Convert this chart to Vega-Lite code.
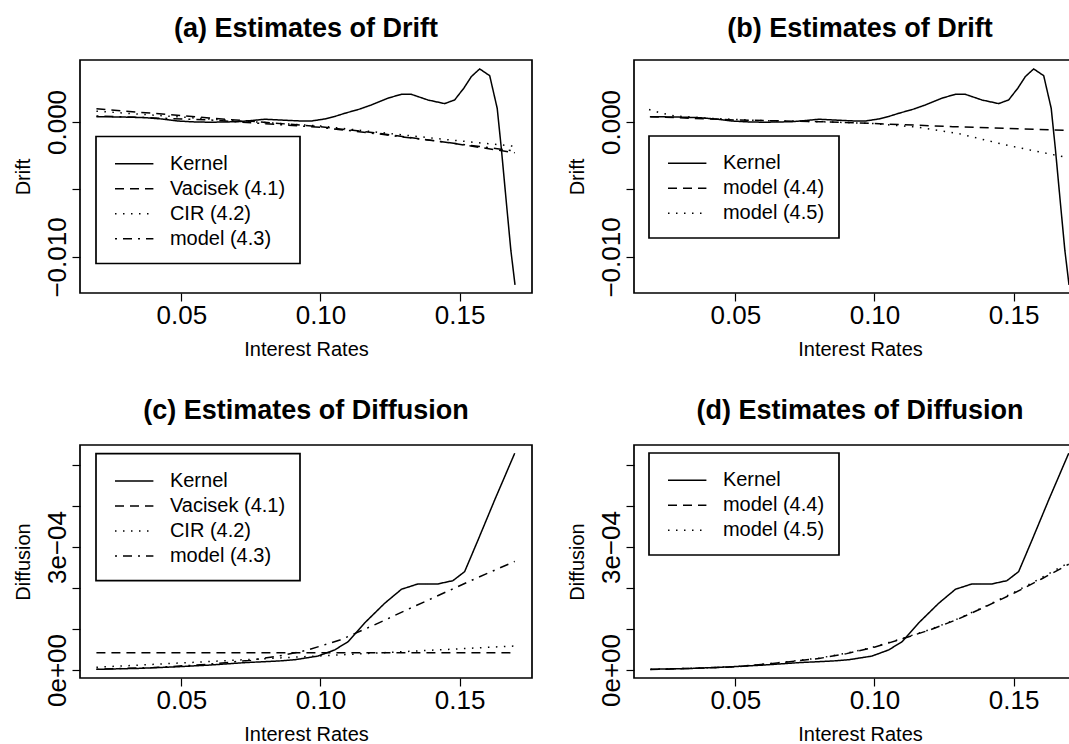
{
  "$schema": "https://vega.github.io/schema/vega-lite/v6.json",
  "autosize": {"type": "none"},
  "padding": {"left": 80, "top": 60, "right": 989, "bottom": 684},
  "background": "white",
  "config": {
    "font": "Liberation Sans",
    "view": {"stroke": "black", "strokeWidth": 1.7},
    "axis": {"domain": false, "grid": false, "ticks": true, "tickColor": "black", "tickSize": 8, "tickWidth": 1.2, "labelColor": "black", "labelFont": "Liberation Sans", "labelFontSize": 26, "titleFont": "Liberation Sans", "titleFontSize": 20, "titleFontWeight": "normal", "titleColor": "black", "labelOverlap": false, "labelBound": false, "labelFlush": false},
    "axisX": {"labelBaseline": "alphabetic", "labelPadding": 22, "titleBaseline": "alphabetic", "titleY": 62, "titleX": 226, "titleAlign": "center"},
    "axisY": {"labelAngle": -90, "labelAlign": "center", "labelBaseline": "alphabetic", "labelPadding": 7, "titleAngle": -90, "titleBaseline": "alphabetic", "titleX": -51, "titleY": 116.5, "titleAlign": "center"},
    "legend": {"orient": "none", "title": null, "strokeColor": "black", "strokeWidth": 1.7, "fillColor": "white", "padding": 14.3, "labelFont": "Liberation Sans", "labelFontSize": 20, "labelColor": "black", "symbolType": "M-1.6,0H1.6", "symbolSize": 576, "symbolStrokeWidth": 1.5, "symbolStrokeColor": "black", "symbolFillColor": "transparent", "symbolOffset": 10.9, "labelOffset": 22.7, "rowPadding": 2, "cornerRadius": 0},
    "title": {"font": "Liberation Sans", "fontSize": 27, "fontWeight": "bold", "color": "black", "anchor": "middle", "frame": "group", "baseline": "alphabetic"},
    "line": {"color": "black", "strokeWidth": 1.5}
  },
  "datasets": {
    "kernel_drift": [
      {"x": 0.0195, "y": 0.00039, "s": "Kernel"},
      {"x": 0.0280, "y": 0.00037, "s": "Kernel"},
      {"x": 0.0369, "y": 0.00032, "s": "Kernel"},
      {"x": 0.0430, "y": 0.00022, "s": "Kernel"},
      {"x": 0.0488, "y": 0.00007, "s": "Kernel"},
      {"x": 0.0550, "y": 0.00000, "s": "Kernel"},
      {"x": 0.0608, "y": -0.00002, "s": "Kernel"},
      {"x": 0.0660, "y": 0.00000, "s": "Kernel"},
      {"x": 0.0704, "y": 0.00002, "s": "Kernel"},
      {"x": 0.0760, "y": 0.00012, "s": "Kernel"},
      {"x": 0.0800, "y": 0.00020, "s": "Kernel"},
      {"x": 0.0871, "y": 0.00013, "s": "Kernel"},
      {"x": 0.0930, "y": 0.00007, "s": "Kernel"},
      {"x": 0.0967, "y": 0.00007, "s": "Kernel"},
      {"x": 0.1015, "y": 0.00022, "s": "Kernel"},
      {"x": 0.1050, "y": 0.00040, "s": "Kernel"},
      {"x": 0.1087, "y": 0.00064, "s": "Kernel"},
      {"x": 0.1140, "y": 0.00095, "s": "Kernel"},
      {"x": 0.1183, "y": 0.00126, "s": "Kernel"},
      {"x": 0.1242, "y": 0.00176, "s": "Kernel"},
      {"x": 0.1291, "y": 0.00205, "s": "Kernel"},
      {"x": 0.1326, "y": 0.00205, "s": "Kernel"},
      {"x": 0.1386, "y": 0.00163, "s": "Kernel"},
      {"x": 0.1446, "y": 0.00136, "s": "Kernel"},
      {"x": 0.1482, "y": 0.00163, "s": "Kernel"},
      {"x": 0.1515, "y": 0.00250, "s": "Kernel"},
      {"x": 0.1542, "y": 0.00336, "s": "Kernel"},
      {"x": 0.1572, "y": 0.00393, "s": "Kernel"},
      {"x": 0.1608, "y": 0.00343, "s": "Kernel"},
      {"x": 0.1635, "y": 0.00101, "s": "Kernel"},
      {"x": 0.1650, "y": -0.00200, "s": "Kernel"},
      {"x": 0.1668, "y": -0.00600, "s": "Kernel"},
      {"x": 0.1684, "y": -0.00950, "s": "Kernel"},
      {"x": 0.1699, "y": -0.01207, "s": "Kernel"}
    ],
    "models_a": [
      {"x": 0.0195, "y": 0.00098, "s": "Vacisek (4.1)"},
      {"x": 0.0600, "y": 0.00030, "s": "Vacisek (4.1)"},
      {"x": 0.1000, "y": -0.00035, "s": "Vacisek (4.1)"},
      {"x": 0.1214, "y": -0.00085, "s": "Vacisek (4.1)"},
      {"x": 0.1450, "y": -0.00150, "s": "Vacisek (4.1)"},
      {"x": 0.1698, "y": -0.00228, "s": "Vacisek (4.1)"},
      {"x": 0.0195, "y": 0.00080, "s": "CIR (4.2)"},
      {"x": 0.0600, "y": 0.00022, "s": "CIR (4.2)"},
      {"x": 0.1000, "y": -0.00030, "s": "CIR (4.2)"},
      {"x": 0.1214, "y": -0.00078, "s": "CIR (4.2)"},
      {"x": 0.1450, "y": -0.00130, "s": "CIR (4.2)"},
      {"x": 0.1698, "y": -0.00180, "s": "CIR (4.2)"},
      {"x": 0.0195, "y": 0.00045, "s": "model (4.3)"},
      {"x": 0.0600, "y": 0.00015, "s": "model (4.3)"},
      {"x": 0.1000, "y": -0.00040, "s": "model (4.3)"},
      {"x": 0.1214, "y": -0.00090, "s": "model (4.3)"},
      {"x": 0.1450, "y": -0.00150, "s": "model (4.3)"},
      {"x": 0.1698, "y": -0.00215, "s": "model (4.3)"}
    ],
    "models_b": [
      {"x": 0.0193, "y": 0.00039, "s": "model (4.4)"},
      {"x": 0.0500, "y": 0.00015, "s": "model (4.4)"},
      {"x": 0.0803, "y": 0.00002, "s": "model (4.4)"},
      {"x": 0.0982, "y": -0.00010, "s": "model (4.4)"},
      {"x": 0.1282, "y": -0.00035, "s": "model (4.4)"},
      {"x": 0.1698, "y": -0.00063, "s": "model (4.4)"},
      {"x": 0.0190, "y": 0.00092, "s": "model (4.5)"},
      {"x": 0.0230, "y": 0.00068, "s": "model (4.5)"},
      {"x": 0.0280, "y": 0.00045, "s": "model (4.5)"},
      {"x": 0.0400, "y": 0.00028, "s": "model (4.5)"},
      {"x": 0.0600, "y": 0.00010, "s": "model (4.5)"},
      {"x": 0.0800, "y": 0.00002, "s": "model (4.5)"},
      {"x": 0.0983, "y": -0.00010, "s": "model (4.5)"},
      {"x": 0.1162, "y": -0.00040, "s": "model (4.5)"},
      {"x": 0.1300, "y": -0.00085, "s": "model (4.5)"},
      {"x": 0.1471, "y": -0.00170, "s": "model (4.5)"},
      {"x": 0.1600, "y": -0.00225, "s": "model (4.5)"},
      {"x": 0.1698, "y": -0.00265, "s": "model (4.5)"}
    ],
    "kernel_diff": [
      {"x": 0.0195, "y": 0.0000017, "s": "Kernel"},
      {"x": 0.0350, "y": 0.0000040, "s": "Kernel"},
      {"x": 0.0488, "y": 0.0000080, "s": "Kernel"},
      {"x": 0.0600, "y": 0.0000120, "s": "Kernel"},
      {"x": 0.0728, "y": 0.0000180, "s": "Kernel"},
      {"x": 0.0850, "y": 0.0000220, "s": "Kernel"},
      {"x": 0.0907, "y": 0.0000250, "s": "Kernel"},
      {"x": 0.0991, "y": 0.0000340, "s": "Kernel"},
      {"x": 0.1051, "y": 0.0000490, "s": "Kernel"},
      {"x": 0.1099, "y": 0.0000690, "s": "Kernel"},
      {"x": 0.1159, "y": 0.0001150, "s": "Kernel"},
      {"x": 0.1231, "y": 0.0001630, "s": "Kernel"},
      {"x": 0.1291, "y": 0.0001970, "s": "Kernel"},
      {"x": 0.1350, "y": 0.0002100, "s": "Kernel"},
      {"x": 0.1422, "y": 0.0002100, "s": "Kernel"},
      {"x": 0.1476, "y": 0.0002180, "s": "Kernel"},
      {"x": 0.1518, "y": 0.0002400, "s": "Kernel"},
      {"x": 0.1566, "y": 0.0003170, "s": "Kernel"},
      {"x": 0.1626, "y": 0.0004150, "s": "Kernel"},
      {"x": 0.1698, "y": 0.0005290, "s": "Kernel"}
    ],
    "models_c": [
      {"x": 0.0195, "y": 0.000042, "s": "Vacisek (4.1)"},
      {"x": 0.1698, "y": 0.000042, "s": "Vacisek (4.1)"},
      {"x": 0.0195, "y": 0.0000067, "s": "CIR (4.2)"},
      {"x": 0.1698, "y": 0.0000586, "s": "CIR (4.2)"},
      {"x": 0.0195, "y": 0.0000020, "s": "model (4.3)"},
      {"x": 0.0400, "y": 0.0000060, "s": "model (4.3)"},
      {"x": 0.0600, "y": 0.0000140, "s": "model (4.3)"},
      {"x": 0.0750, "y": 0.0000240, "s": "model (4.3)"},
      {"x": 0.0850, "y": 0.0000340, "s": "model (4.3)"},
      {"x": 0.0950, "y": 0.0000480, "s": "model (4.3)"},
      {"x": 0.1070, "y": 0.0000730, "s": "model (4.3)"},
      {"x": 0.1200, "y": 0.0001120, "s": "model (4.3)"},
      {"x": 0.1330, "y": 0.0001530, "s": "model (4.3)"},
      {"x": 0.1450, "y": 0.0001900, "s": "model (4.3)"},
      {"x": 0.1560, "y": 0.0002240, "s": "model (4.3)"},
      {"x": 0.1698, "y": 0.0002650, "s": "model (4.3)"}
    ],
    "models_d": [
      {"x": 0.0195, "y": 0.0000010, "s": "model (4.4)"},
      {"x": 0.0400, "y": 0.0000050, "s": "model (4.4)"},
      {"x": 0.0505, "y": 0.0000080, "s": "model (4.4)"},
      {"x": 0.0650, "y": 0.0000170, "s": "model (4.4)"},
      {"x": 0.0800, "y": 0.0000280, "s": "model (4.4)"},
      {"x": 0.0900, "y": 0.0000400, "s": "model (4.4)"},
      {"x": 0.1002, "y": 0.0000560, "s": "model (4.4)"},
      {"x": 0.1100, "y": 0.0000760, "s": "model (4.4)"},
      {"x": 0.1200, "y": 0.0000980, "s": "model (4.4)"},
      {"x": 0.1300, "y": 0.0001240, "s": "model (4.4)"},
      {"x": 0.1400, "y": 0.0001550, "s": "model (4.4)"},
      {"x": 0.1500, "y": 0.0001870, "s": "model (4.4)"},
      {"x": 0.1600, "y": 0.0002220, "s": "model (4.4)"},
      {"x": 0.1698, "y": 0.0002580, "s": "model (4.4)"},
      {"x": 0.0195, "y": 0.0000015, "s": "model (4.5)"},
      {"x": 0.0400, "y": 0.0000055, "s": "model (4.5)"},
      {"x": 0.0505, "y": 0.0000085, "s": "model (4.5)"},
      {"x": 0.0650, "y": 0.0000175, "s": "model (4.5)"},
      {"x": 0.0800, "y": 0.0000290, "s": "model (4.5)"},
      {"x": 0.0900, "y": 0.0000410, "s": "model (4.5)"},
      {"x": 0.1002, "y": 0.0000570, "s": "model (4.5)"},
      {"x": 0.1100, "y": 0.0000770, "s": "model (4.5)"},
      {"x": 0.1200, "y": 0.0000990, "s": "model (4.5)"},
      {"x": 0.1300, "y": 0.0001250, "s": "model (4.5)"},
      {"x": 0.1400, "y": 0.0001560, "s": "model (4.5)"},
      {"x": 0.1500, "y": 0.0001890, "s": "model (4.5)"},
      {"x": 0.1600, "y": 0.0002250, "s": "model (4.5)"},
      {"x": 0.1698, "y": 0.0002620, "s": "model (4.5)"}
    ]
  },
  "columns": 2,
  "spacing": {"row": 152, "column": 102},
  "bounds": "flush",
  "resolve": {"scale": {"x": "independent", "y": "independent", "strokeDash": "independent"}, "legend": {"strokeDash": "independent"}},
  "concat": [
    {
      "title": {"text": "(a) Estimates of Drift", "offset": 17.5},
      "width": 452, "height": 233,
      "encoding": {
        "x": {"field": "x", "type": "quantitative", "scale": {"domain": [0.0136, 0.176], "nice": false, "zero": false}, "axis": {"values": [0.05, 0.1, 0.15], "format": ".2f", "title": "Interest Rates"}},
        "y": {"field": "y", "type": "quantitative", "scale": {"domain": [-0.01267, 0.00459], "nice": false, "zero": false}, "axis": {"values": [-0.01, -0.005, 0], "labelExpr": "abs(datum.value) < 1e-9 ? '0.000' : abs(datum.value + 0.01) < 1e-9 ? '\u22120.010' : ''", "title": "Drift"}},
        "strokeDash": {"field": "s", "type": "nominal", "scale": {"domain": ["Kernel", "Vacisek (4.1)", "CIR (4.2)", "model (4.3)"], "range": [[1, 0], [9, 6], [1.5, 6.5], [2, 6, 9, 6]]}, "legend": {"legendX": 16, "legendY": 76.5}}
      },
      "layer": [
        {"data": {"name": "models_a"}, "mark": {"type": "line"}},
        {"data": {"name": "kernel_drift"}, "mark": {"type": "line"}}
      ]
    },
    {
      "title": {"text": "(b) Estimates of Drift", "offset": 17.5},
      "width": 452, "height": 233,
      "encoding": {
        "x": {"field": "x", "type": "quantitative", "scale": {"domain": [0.0136, 0.176], "nice": false, "zero": false}, "axis": {"values": [0.05, 0.1, 0.15], "format": ".2f", "title": "Interest Rates"}},
        "y": {"field": "y", "type": "quantitative", "scale": {"domain": [-0.01267, 0.00459], "nice": false, "zero": false}, "axis": {"values": [-0.01, -0.005, 0], "labelExpr": "abs(datum.value) < 1e-9 ? '0.000' : abs(datum.value + 0.01) < 1e-9 ? '\u22120.010' : ''", "title": "Drift"}},
        "strokeDash": {"field": "s", "type": "nominal", "scale": {"domain": ["Kernel", "model (4.4)", "model (4.5)"], "range": [[1, 0], [9, 6], [1.5, 6.5]]}, "legend": {"legendX": 15, "legendY": 76}}
      },
      "layer": [
        {"data": {"name": "models_b"}, "mark": {"type": "line"}},
        {"data": {"name": "kernel_drift"}, "mark": {"type": "line"}}
      ]
    },
    {
      "title": {"text": "(c) Estimates of Diffusion", "offset": 20.5},
      "width": 452, "height": 233,
      "encoding": {
        "x": {"field": "x", "type": "quantitative", "scale": {"domain": [0.0136, 0.176], "nice": false, "zero": false}, "axis": {"values": [0.05, 0.1, 0.15], "format": ".2f", "title": "Interest Rates"}},
        "y": {"field": "y", "type": "quantitative", "scale": {"domain": [-0.0000195, 0.000549], "nice": false, "zero": false}, "axis": {"values": [0, 0.0001, 0.0002, 0.0003, 0.0004, 0.0005], "labelExpr": "abs(datum.value) < 1e-12 ? '0e+00' : abs(datum.value - 0.0003) < 1e-9 ? '3e\u221204' : ''", "title": "Diffusion"}},
        "strokeDash": {"field": "s", "type": "nominal", "scale": {"domain": ["Kernel", "Vacisek (4.1)", "CIR (4.2)", "model (4.3)"], "range": [[1, 0], [9, 6], [1.5, 6.5], [2, 6, 9, 6]]}, "legend": {"legendX": 16, "legendY": 8.7}}
      },
      "layer": [
        {"data": {"name": "models_c"}, "mark": {"type": "line"}},
        {"data": {"name": "kernel_diff"}, "mark": {"type": "line"}}
      ]
    },
    {
      "title": {"text": "(d) Estimates of Diffusion", "offset": 20.5},
      "width": 452, "height": 233,
      "encoding": {
        "x": {"field": "x", "type": "quantitative", "scale": {"domain": [0.0136, 0.176], "nice": false, "zero": false}, "axis": {"values": [0.05, 0.1, 0.15], "format": ".2f", "title": "Interest Rates"}},
        "y": {"field": "y", "type": "quantitative", "scale": {"domain": [-0.0000195, 0.000549], "nice": false, "zero": false}, "axis": {"values": [0, 0.0001, 0.0002, 0.0003, 0.0004, 0.0005], "labelExpr": "abs(datum.value) < 1e-12 ? '0e+00' : abs(datum.value - 0.0003) < 1e-9 ? '3e\u221204' : ''", "title": "Diffusion"}},
        "strokeDash": {"field": "s", "type": "nominal", "scale": {"domain": ["Kernel", "model (4.4)", "model (4.5)"], "range": [[1, 0], [9, 6], [1.5, 6.5]]}, "legend": {"legendX": 15, "legendY": 8}}
      },
      "layer": [
        {"data": {"name": "models_d"}, "mark": {"type": "line"}},
        {"data": {"name": "kernel_diff"}, "mark": {"type": "line"}}
      ]
    }
  ]
}
